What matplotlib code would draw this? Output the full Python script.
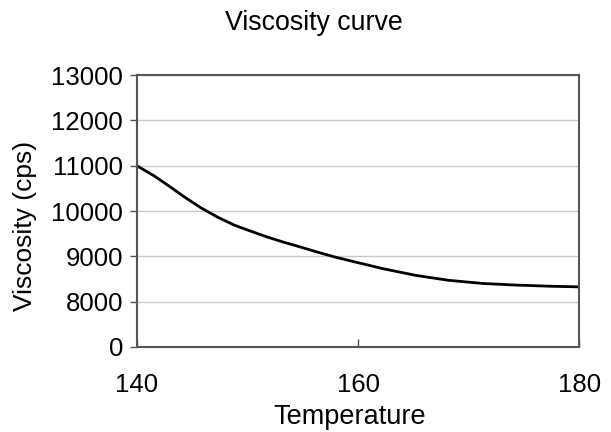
import matplotlib
matplotlib.use("Agg")
import matplotlib.pyplot as plt

plt.rcParams['font.family'] = ['Liberation Sans', 'DejaVu Sans']

# Data
temperature = [140, 141.6, 142.8, 144.3, 145.8, 147.3, 148.8, 150.3, 151.8, 153.3,
               154.8, 156.3, 157.9, 159.4, 162.2, 165.2, 168.2, 171.3, 174.3, 177.3, 180]
viscosity = [11000, 10770, 10570, 10310, 10070, 9865, 9690, 9555, 9425, 9310,
             9205, 9095, 8985, 8895, 8730, 8580, 8470, 8400, 8365, 8340, 8325]

# the axis is broken: bottom tick reads 0 but sits one step below 8000
y_ticks = [7000, 8000, 9000, 10000, 11000, 12000, 13000]
y_labels = ['0', '8000', '9000', '10000', '11000', '12000', '13000']
x_ticks = [140, 160, 180]

fig = plt.figure(figsize=(6.11, 4.32), dpi=100)
ax = fig.add_axes([0.224, 0.197, 0.724, 0.629])

ax.plot(temperature, viscosity, color='black', lw=2, solid_capstyle='butt')

ax.set_xlim(140, 180)
ax.set_ylim(7000, 13000)
ax.set_xticks(x_ticks)
ax.set_yticks(y_ticks)
ax.set_yticklabels(y_labels)
ax.grid(axis='y', color='#c8c8c8', lw=1)
ax.set_axisbelow(True)

for s in ax.spines.values():
    s.set_color('#555555')
    s.set_linewidth(1.5)

ax.tick_params(axis='x', direction='in', length=6, width=1, colors='#555555',
               labelcolor='black', labelsize=18.5, pad=19)
ax.tick_params(axis='y', direction='out', length=5, width=1, colors='#555555',
               labelcolor='black', labelsize=18.5, pad=5)

fig.text(0.514, 1 - 23 / 432, 'Viscosity curve', fontsize=19.3, ha='center', va='center')
fig.text(0.573, 1 - 417 / 432, 'Temperature', fontsize=19.5, ha='center', va='center')
fig.text(25 / 611, 1 - 226 / 432, 'Viscosity (cps)', fontsize=19, ha='center',
         va='center', rotation=90)

fig.savefig('out.png', dpi=100)
